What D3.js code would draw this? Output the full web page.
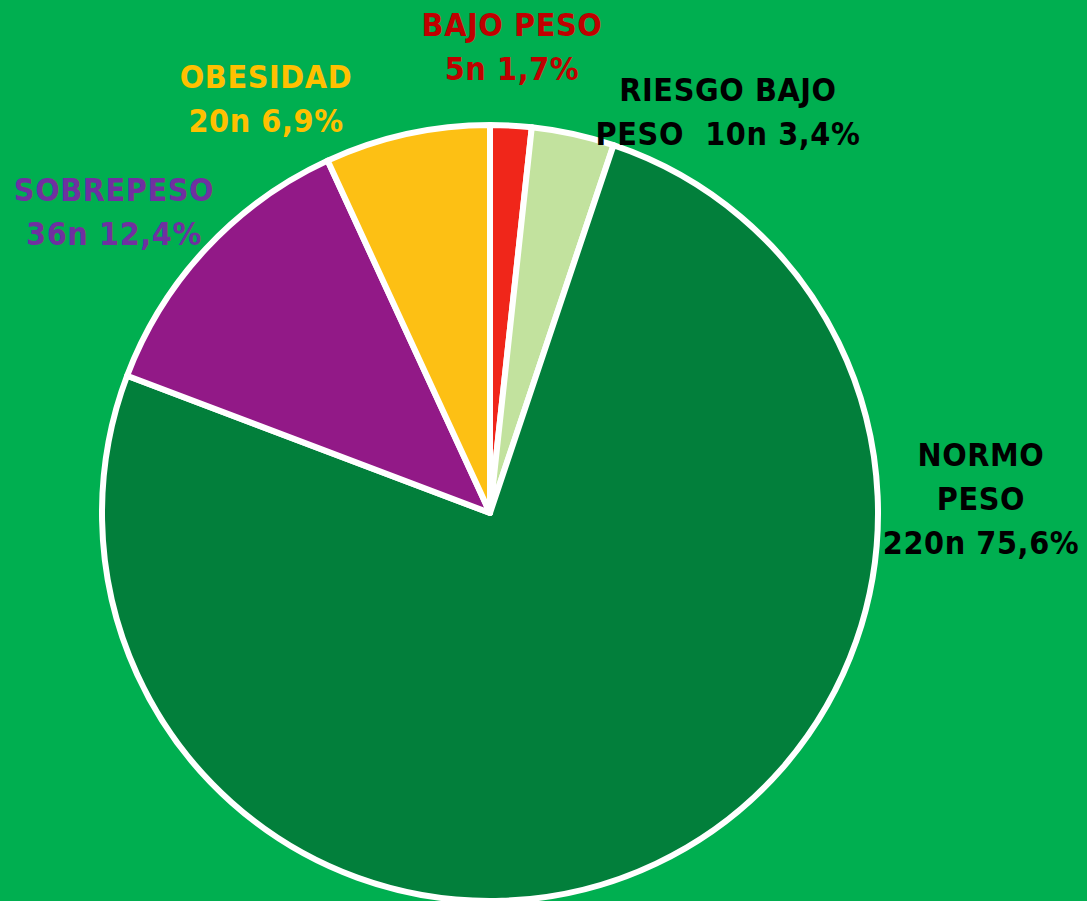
<!DOCTYPE html>
<html>
<head>
<meta charset="utf-8">
<script src="https://cdn.jsdelivr.net/npm/d3@7"></script>
<style>
  body { margin: 0; background: #00af50; }
  svg { display: block; }
  text { font-family: "DejaVu Sans Condensed", "DejaVu Sans", sans-serif; font-weight: bold; font-size: 32px; letter-spacing: 0.6px; }
</style>
</head>
<body>
<div id="chart"></div>
<script>
// data, clockwise from 12 o'clock
var categories = ["BAJO PESO", "RIESGO BAJO PESO", "NORMO PESO", "SOBREPESO", "OBESIDAD"];
var counts = [5, 10, 220, 36, 20];
var percents = ["1,7%", "3,4%", "75,6%", "12,4%", "6,9%"];
var sliceColors = ["#f0261a", "#c2e29e", "#027f3b", "#921987", "#fdc014"];
var labelColors = ["#c00000", "#000000", "#000000", "#7030a0", "#ffc000"];

var width = 1087, height = 901;
var cx = 490, cy = 513, radius = 388;

var svg = d3.select("#chart")
  .append("svg")
  .attr("width", width)
  .attr("height", height);

var pie = d3.pie().sort(null).value(function(d) { return d; });
var arc = d3.arc().innerRadius(0).outerRadius(radius);

var g = svg.append("g")
  .attr("transform", "translate(" + cx + "," + cy + ")");

g.selectAll("path")
  .data(pie(counts))
  .enter().append("path")
  .attr("d", arc)
  .attr("fill", function(d, i) { return sliceColors[i]; })
  .attr("stroke", "#fff")
  .attr("stroke-width", 6)
  .attr("stroke-linejoin", "round");

// label lines, placed by hand like in the original
var labelLines = [
  [categories[0], counts[0] + "n " + percents[0]],
  ["RIESGO BAJO", "PESO\u00a0\u00a0" + counts[1] + "n " + percents[1]],
  ["NORMO", "PESO", counts[2] + "n " + percents[2]],
  [categories[3], counts[3] + "n " + percents[3]],
  [categories[4], counts[4] + "n " + percents[4]]
];
var labelPos = [
  {x: 512, y: 36}, {x: 728, y: 101}, {x: 981, y: 466}, {x: 114, y: 201}, {x: 266, y: 88}
];
var lineHeight = 44;

labelLines.forEach(function(lines, i) {
  var t = svg.append("text")
    .attr("text-anchor", "middle")
    .attr("fill", labelColors[i]);
  lines.forEach(function(s, j) {
    t.append("tspan")
      .attr("x", labelPos[i].x)
      .attr("y", labelPos[i].y + j * lineHeight)
      .text(s);
  });
});
</script>
</body>
</html>
